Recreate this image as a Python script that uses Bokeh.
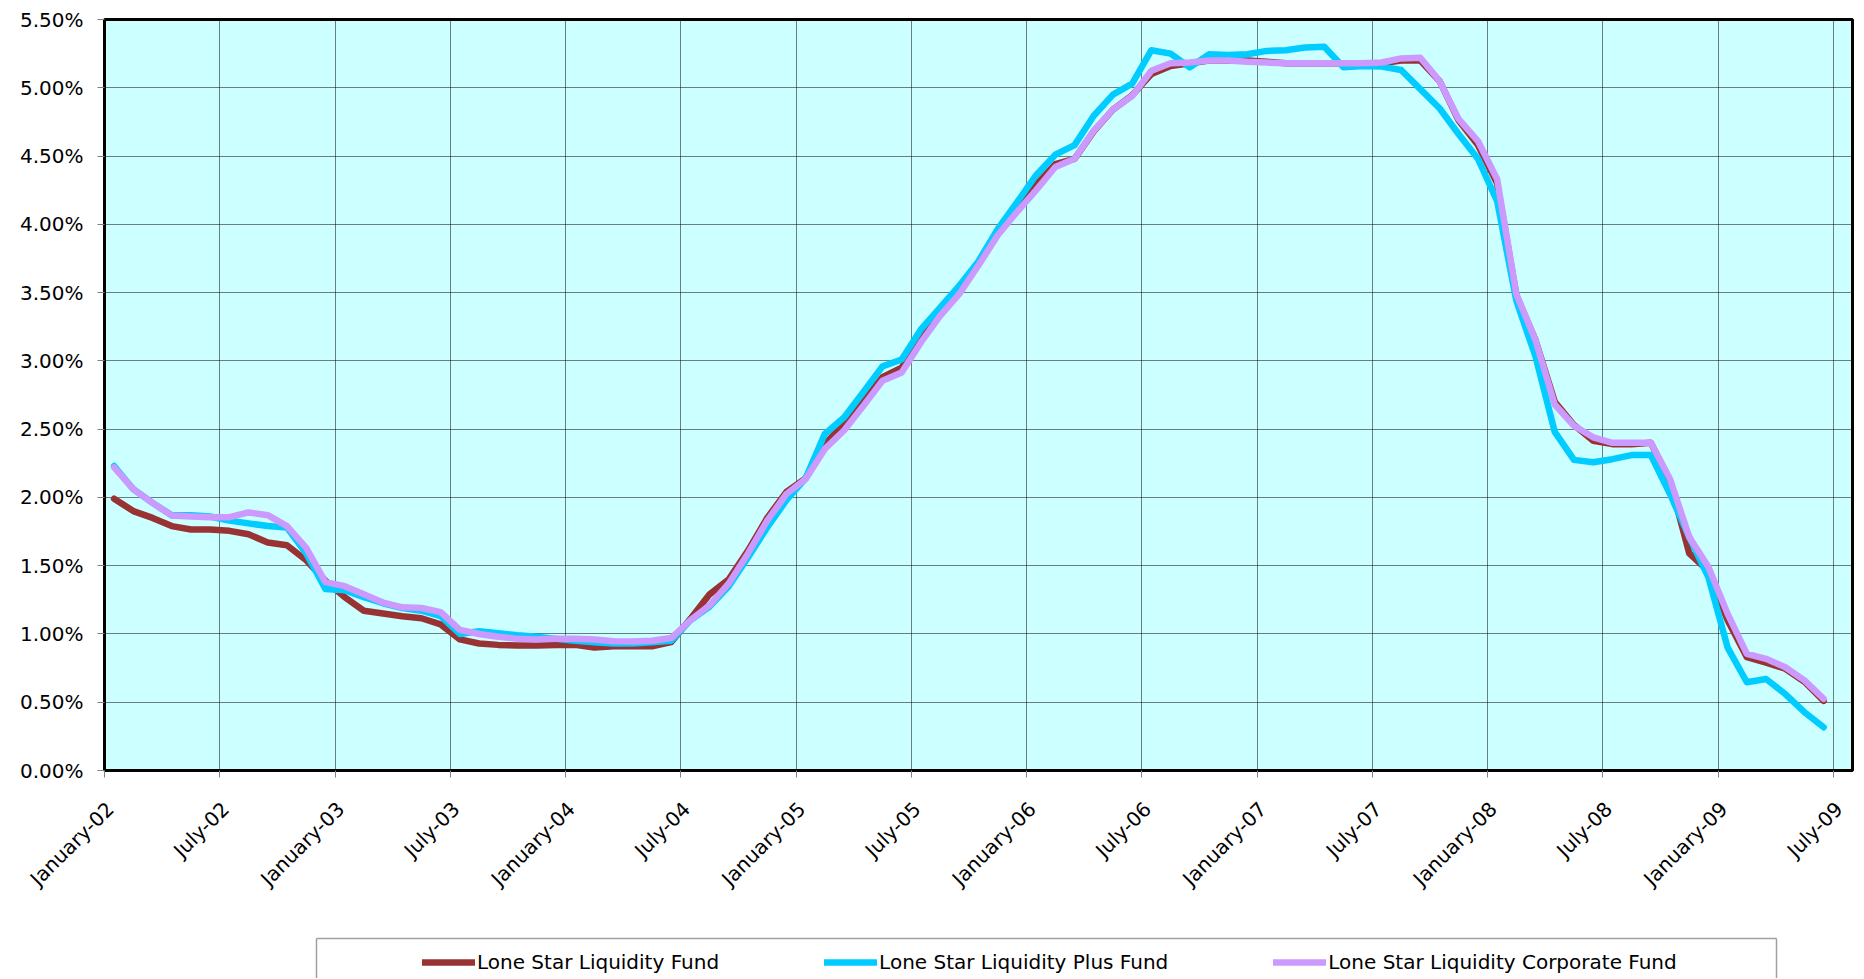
from math import pi
import numpy as np
from bokeh.plotting import figure
from bokeh.models import (Range1d, FixedTicker, LinearAxis, PrintfTickFormatter, Legend,
                          LegendItem)
from bokeh.embed import file_html
from bokeh.resources import INLINE

# ---------------- data ----------------
tick_labels = ["January-02", "July-02", "January-03", "July-03", "January-04", "July-04",
               "January-05", "July-05", "January-06", "July-06", "January-07", "July-07",
               "January-08", "July-08", "January-09", "July-09"]
n_categories = 91          # monthly categories January-02 .. July-09
months_per_tick = 6

fund = [1.99, 1.90, 1.85, 1.79, 1.765, 1.765, 1.755, 1.73, 1.67, 1.65,
        1.54, 1.39, 1.27, 1.17, 1.15, 1.13, 1.115, 1.07, 0.96, 0.93,
        0.92, 0.915, 0.915, 0.92, 0.92, 0.90, 0.91, 0.91, 0.91, 0.94,
        1.11, 1.29, 1.40, 1.61, 1.85, 2.04, 2.14, 2.39, 2.54, 2.71,
        2.88, 2.95, 3.18, 3.355, 3.53, 3.72, 3.95, 4.12, 4.29, 4.44,
        4.48, 4.68, 4.84, 4.945, 5.10, 5.16, 5.18, 5.20, 5.20, 5.20,
        5.19, 5.18, 5.18, 5.18, 5.18, 5.18, 5.18, 5.20, 5.20, 5.05,
        4.76, 4.58, 4.30, 3.48, 3.15, 2.70, 2.53, 2.415, 2.39, 2.39,
        2.40, 2.12, 1.59, 1.46, 1.10, 0.83, 0.79, 0.745, 0.65, 0.51]

plus_fund = [2.23, 2.06, 1.96, 1.87, 1.87, 1.86, 1.83, 1.81, 1.79, 1.78,
             1.59, 1.33, 1.32, 1.27, 1.225, 1.19, 1.17, 1.13, 1.00, 1.02,
             1.005, 0.99, 0.98, 0.964, 0.95, 0.94, 0.93, 0.93, 0.94, 0.95,
             1.10, 1.20, 1.35, 1.56, 1.78, 1.98, 2.14, 2.465, 2.585, 2.77,
             2.96, 3.01, 3.23, 3.39, 3.55, 3.73, 3.965, 4.16, 4.36, 4.51,
             4.58, 4.795, 4.95, 5.03, 5.275, 5.25, 5.15, 5.245, 5.24, 5.245,
             5.27, 5.275, 5.295, 5.30, 5.15, 5.16, 5.155, 5.13, 4.99, 4.85,
             4.66, 4.48, 4.17, 3.44, 3.03, 2.48, 2.275, 2.257, 2.28, 2.31,
             2.31, 2.025, 1.71, 1.415, 0.90, 0.646, 0.67, 0.56, 0.427, 0.317]

corporate_fund = [2.22, 2.06, 1.96, 1.867, 1.86, 1.855, 1.855, 1.89, 1.87, 1.79,
                  1.63, 1.38, 1.35, 1.29, 1.23, 1.195, 1.19, 1.16, 1.03, 1.00,
                  0.98, 0.964, 0.96, 0.964, 0.964, 0.96, 0.947, 0.945, 0.95, 0.97,
                  1.10, 1.21, 1.37, 1.59, 1.83, 2.025, 2.135, 2.355, 2.49, 2.67,
                  2.855, 2.915, 3.135, 3.33, 3.49, 3.70, 3.92, 4.09, 4.25, 4.42,
                  4.48, 4.685, 4.84, 4.94, 5.125, 5.18, 5.185, 5.20, 5.20, 5.19,
                  5.185, 5.18, 5.18, 5.18, 5.18, 5.18, 5.185, 5.215, 5.22, 5.05,
                  4.77, 4.61, 4.33, 3.49, 3.15, 2.68, 2.525, 2.44, 2.40, 2.40,
                  2.40, 2.135, 1.71, 1.49, 1.147, 0.854, 0.818, 0.756, 0.66, 0.525]

series_names = ["Lone Star Liquidity Fund", "Lone Star Liquidity Plus Fund",
                "Lone Star Liquidity Corporate Fund"]
series_colors = ["#993333", "#00CCFF", "#CC99FF"]
y_ticks = [0.0, 0.5, 1.0, 1.5, 2.0, 2.5, 3.0, 3.5, 4.0, 4.5, 5.0, 5.5]

# ---------------- derived positions ----------------
x = np.arange(len(fund)) + 0.5                       # category centres
tick_pos = [months_per_tick * k for k in range(len(tick_labels))]
label_shift = 0.3                                    # rotated label anchor offset
label_pos = [t + label_shift for t in tick_pos]
series = [fund, plus_fund, corporate_fund]

FONT = "DejaVu Sans"
GRID = "black"
LW = 6.5

# ---------------- main chart ----------------
p = figure(frame_width=1748, frame_height=751,
           min_border_left=104, min_border_right=8, min_border_top=19, min_border_bottom=140,
           x_range=Range1d(0, n_categories), y_range=Range1d(0, 5.5),
           output_backend="svg", toolbar_location=None,
           background_fill_color="#CCFFFF", border_fill_color="white",
           outline_line_color="black", outline_line_width=3)

for vals, color in zip(series, series_colors):
    p.line(x, vals, line_color=color, line_width=LW, line_cap="round", line_join="round")

# axis A: tick marks only
xa = p.xaxis[0]
xa.ticker = FixedTicker(ticks=tick_pos)
xa.major_label_text_font_size = "0px"
xa.major_label_text_color = None
xa.major_label_standoff = 0
xa.major_tick_out = 7
xa.major_tick_in = 0
xa.minor_tick_out = 0
xa.minor_tick_in = 0
xa.minor_tick_line_color = None
xa.axis_line_color = None
xa.major_tick_line_color = "#808080"

# axis B: rotated labels
xb = LinearAxis(ticker=FixedTicker(ticks=label_pos),
                major_label_overrides={lp: lab for lp, lab in zip(label_pos, tick_labels)},
                major_label_orientation=pi / 4,
                major_tick_line_color=None, minor_tick_line_color=None,
                major_tick_out=0, major_tick_in=0, minor_tick_out=0, minor_tick_in=0,
                axis_line_color=None, major_label_standoff=28,
                major_label_text_font=FONT, major_label_text_font_size="20px",
                major_label_text_color="black")
p.add_layout(xb, "below")

p.xgrid.ticker = FixedTicker(ticks=tick_pos)
p.xgrid.grid_line_color = GRID
p.xgrid.grid_line_alpha = 0.5
p.ygrid.ticker = FixedTicker(ticks=y_ticks)
p.ygrid.grid_line_color = GRID
p.ygrid.grid_line_alpha = 0.5

ya = p.yaxis[0]
ya.ticker = FixedTicker(ticks=y_ticks)
ya.formatter = PrintfTickFormatter(format="%.2f%%")
ya.major_tick_out = 7
ya.major_tick_in = 0
ya.minor_tick_line_color = None
ya.axis_line_color = None
ya.major_tick_line_color = "#808080"
ya.major_label_standoff = 14
ya.major_label_text_font = FONT
ya.major_label_text_font_size = "20px"
ya.major_label_text_color = "black"

# ---------------- legend panel (separate root below the chart) ----------------
q = figure(frame_width=1460, frame_height=40,
           min_border_left=316, min_border_right=80, min_border_top=28, min_border_bottom=0,
           x_axis_location="above", x_range=Range1d(0, n_categories), y_range=Range1d(-20, -10),
           output_backend="svg", toolbar_location=None,
           outline_line_color=None, border_fill_color="white", background_fill_color="white")
q.grid.visible = False
q.add_layout(LinearAxis(), "right")
for ax in q.axis:
    ax.ticker = FixedTicker(ticks=[])
    ax.major_label_text_font_size = "0px"
    ax.major_tick_out = 0
    ax.major_tick_in = 0
    ax.minor_tick_out = 0
    ax.minor_tick_in = 0
    ax.major_label_standoff = 0
    ax.axis_line_color = "#A0A0A0"
    ax.axis_line_width = 1.5

items = []
for vals, name, color in zip(series, series_names, series_colors):
    # same series, drawn outside this panel's visible range: used only as legend keys
    r = q.line(x, vals, line_color=color, line_width=LW, line_cap="round")
    items.append(LegendItem(label=name, renderers=[r]))

legend = Legend(items=items, orientation="horizontal", location=(106, 4),
                glyph_width=53, glyph_height=20, label_standoff=2, spacing=105,
                padding=0, margin=0, border_line_alpha=0, background_fill_alpha=0,
                label_text_font=FONT, label_text_font_size="20px", label_text_color="black",
                click_policy="none")
q.add_layout(legend)

open("out.html", "w").write(file_html([p, q], INLINE))
